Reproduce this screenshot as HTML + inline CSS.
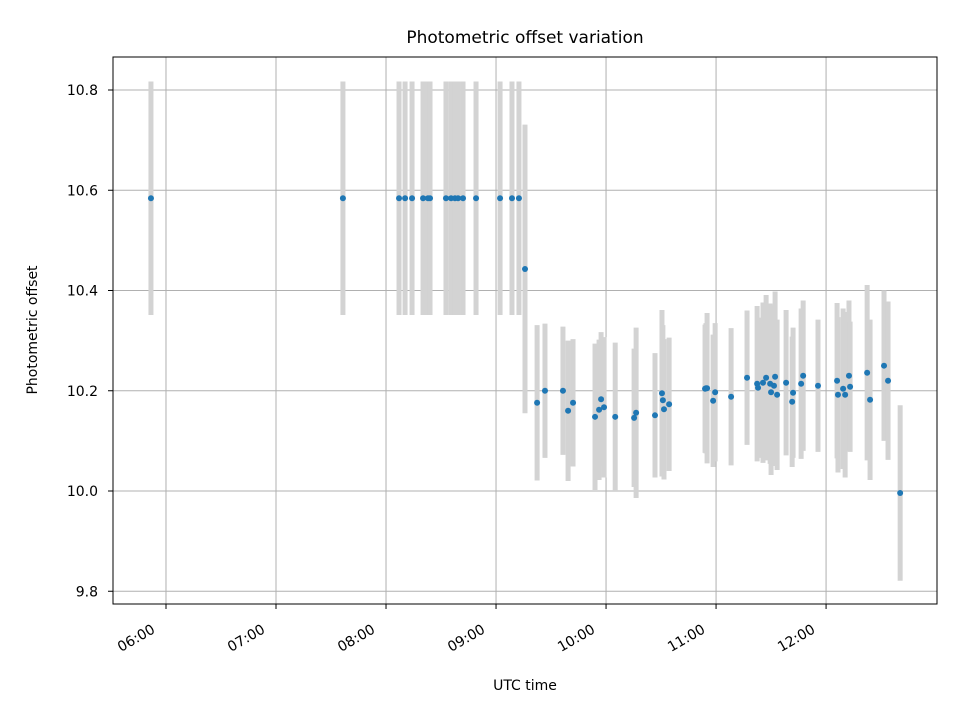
<!DOCTYPE html>
<html><head><meta charset="utf-8"><style>
body{margin:0;background:#fff}
svg text{font-family:"DejaVu Sans","Liberation Sans",sans-serif;fill:#000}
</style></head><body>
<svg id="chart" width="960" height="720"></svg>
<script>
// minutes after 06:00 UTC
const times=[-8.2,96.5,127.1,130.4,134.2,140.2,142.9,144,152.7,155.5,157.6,159.3,162,169.1,182.2,188.7,192.5,195.8,202.4,206.7,216.5,219.3,222,234,236.2,237.3,238.9,245,255.3,256.4,266.7,270.5,271,271.6,274.4,294,294.5,295.1,298.4,299.5,308.2,316.9,322.4,322.9,325.6,327.3,329.5,330,331.6,332.2,333.3,338.2,341.5,342,346.4,347.5,355.6,366,366.5,369.3,370.4,372.5,373.1,382.4,384,391.6,393.8,400.4];
const offsets=[10.584,10.584,10.584,10.584,10.584,10.584,10.584,10.584,10.584,10.584,10.584,10.584,10.584,10.584,10.584,10.584,10.584,10.443,10.176,10.2,10.2,10.16,10.176,10.148,10.162,10.183,10.167,10.148,10.146,10.156,10.151,10.195,10.181,10.163,10.173,10.204,10.205,10.205,10.18,10.197,10.188,10.226,10.214,10.206,10.216,10.226,10.214,10.197,10.21,10.228,10.192,10.216,10.178,10.196,10.214,10.23,10.21,10.22,10.192,10.204,10.192,10.23,10.208,10.236,10.182,10.25,10.22,9.996];
const errors=[0.233,0.233,0.233,0.233,0.233,0.233,0.233,0.233,0.233,0.233,0.233,0.233,0.233,0.233,0.233,0.233,0.233,0.288,0.155,0.134,0.128,0.14,0.127,0.146,0.14,0.134,0.14,0.148,0.138,0.17,0.124,0.166,0.15,0.14,0.133,0.128,0.13,0.15,0.132,0.138,0.137,0.134,0.155,0.14,0.16,0.165,0.16,0.165,0.16,0.17,0.15,0.145,0.13,0.13,0.15,0.15,0.132,0.155,0.155,0.16,0.165,0.15,0.13,0.175,0.16,0.15,0.158,0.175];
const yTicks=[9.8,10.0,10.2,10.4,10.6,10.8];
const xTicks=[0,60,120,180,240,300,360];
const xTickLabels=["06:00","07:00","08:00","09:00","10:00","11:00","12:00"];

const L=113,R=937,T=57,B=604;
const x=m=>L+(m+28.9)/(420.5+28.9)*(R-L);
const y=v=>491+(10.0-v)*501.25;
const NS="http://www.w3.org/2000/svg";
const svg=document.getElementById('chart');
function mk(tag,attrs,parent){const e=document.createElementNS(NS,tag);for(const k in attrs)e.setAttribute(k,attrs[k]);(parent||svg).appendChild(e);return e;}

const grid=mk('g',{});


xTicks.forEach(t=>{const l=mk('line',{x1:x(t),x2:x(t),y1:T,y2:B,stroke:'#b0b0b0','stroke-width':1},grid);

});
yTicks.forEach(t=>{const l=mk('line',{x1:L,x2:R,y1:y(t),y2:y(t),stroke:'#b0b0b0','stroke-width':1},grid);

});

const eb=mk('g',{});


times.forEach((t,i)=>{const l=mk('line',{x1:x(t),x2:x(t),y1:y(offsets[i]+errors[i]),y2:y(offsets[i]-errors[i]),stroke:'#d3d3d3','stroke-width':5},eb);

});
const pts=mk('g',{});


times.forEach((t,i)=>{const c=mk('circle',{cx:x(t),cy:y(offsets[i]),r:3,fill:'#1f77b4'},pts);

});

const frame=mk('rect',{x:L,y:T,width:R-L,height:B-T,fill:'none',stroke:'#000','stroke-width':1});



const xa=mk('g',{});


xTicks.forEach((t,i)=>{mk('line',{x1:x(t),x2:x(t),y1:B,y2:B+5,stroke:'#000'},xa);
const ax=x(t)-10, ay=B+28;
const tx=mk('text',{x:ax,y:ay,'font-size':14,'text-anchor':'end',transform:`rotate(-30 ${ax} ${ay})`},xa);


tx.textContent=xTickLabels[i];});
const ya=mk('g',{});


yTicks.forEach(t=>{mk('line',{x1:L-5,x2:L,y1:y(t),y2:y(t),stroke:'#000'},ya);
const tx=mk('text',{x:L-15,y:y(t)+5,'font-size':14,'text-anchor':'end'},ya);


tx.textContent=t.toFixed(1);});

const ti=mk('text',{x:525,y:43,'font-size':17,'text-anchor':'middle'});


ti.textContent='Photometric offset variation';
const xl=mk('text',{x:525,y:690,'font-size':14,'text-anchor':'middle'});


xl.textContent='UTC time';
const yl=mk('text',{x:37,y:330,'font-size':14,'text-anchor':'middle',transform:'rotate(-90 37 330)'});


yl.textContent='Photometric offset';
</script>
</body></html>
